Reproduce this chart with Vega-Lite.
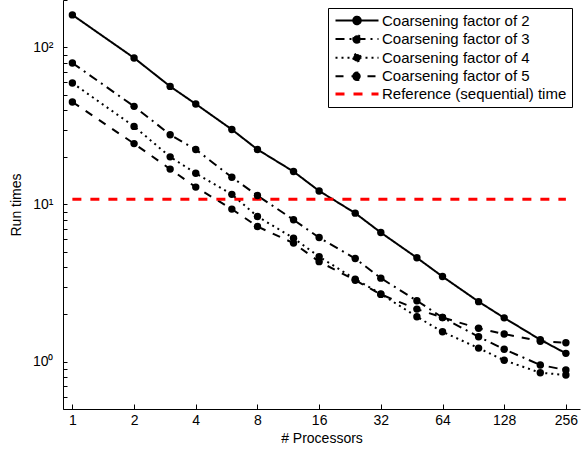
{
  "$schema": "https://vega.github.io/schema/vega-lite/v6.json",
  "width": 517,
  "height": 409,
  "autosize": {"type": "none"},
  "padding": {"left": 63, "top": 0, "right": 1, "bottom": 41},
  "background": "white",
  "config": {
    "font": "Liberation Sans",
    "view": {"stroke": null},
    "axis": {
      "domainColor": "black",
      "domainWidth": 1,
      "tickColor": "black",
      "tickWidth": 1,
      "grid": false,
      "labelColor": "black",
      "titleColor": "black",
      "labelFont": "Liberation Sans",
      "titleFont": "Liberation Sans",
      "labelFontSize": 14,
      "titleFontSize": 14,
      "titleFontWeight": "normal"
    }
  },
  "data": {
    "values": [
      {"P": 1, "time": 160.8, "series": "Coarsening factor of 2"},
      {"P": 2, "time": 85.6, "series": "Coarsening factor of 2"},
      {"P": 3, "time": 56.4, "series": "Coarsening factor of 2"},
      {"P": 4, "time": 43.6, "series": "Coarsening factor of 2"},
      {"P": 6, "time": 30.0, "series": "Coarsening factor of 2"},
      {"P": 8, "time": 22.4, "series": "Coarsening factor of 2"},
      {"P": 12, "time": 16.2, "series": "Coarsening factor of 2"},
      {"P": 16, "time": 12.2, "series": "Coarsening factor of 2"},
      {"P": 24, "time": 8.81, "series": "Coarsening factor of 2"},
      {"P": 32, "time": 6.63, "series": "Coarsening factor of 2"},
      {"P": 48, "time": 4.58, "series": "Coarsening factor of 2"},
      {"P": 64, "time": 3.48, "series": "Coarsening factor of 2"},
      {"P": 96, "time": 2.41, "series": "Coarsening factor of 2"},
      {"P": 128, "time": 1.90, "series": "Coarsening factor of 2"},
      {"P": 192, "time": 1.38, "series": "Coarsening factor of 2"},
      {"P": 256, "time": 1.13, "series": "Coarsening factor of 2"},
      {"P": 1, "time": 79.5, "series": "Coarsening factor of 3"},
      {"P": 2, "time": 42.1, "series": "Coarsening factor of 3"},
      {"P": 3, "time": 27.8, "series": "Coarsening factor of 3"},
      {"P": 4, "time": 22.4, "series": "Coarsening factor of 3"},
      {"P": 6, "time": 14.9, "series": "Coarsening factor of 3"},
      {"P": 8, "time": 11.4, "series": "Coarsening factor of 3"},
      {"P": 12, "time": 7.99, "series": "Coarsening factor of 3"},
      {"P": 16, "time": 6.16, "series": "Coarsening factor of 3"},
      {"P": 24, "time": 4.53, "series": "Coarsening factor of 3"},
      {"P": 32, "time": 3.40, "series": "Coarsening factor of 3"},
      {"P": 48, "time": 2.44, "series": "Coarsening factor of 3"},
      {"P": 64, "time": 1.91, "series": "Coarsening factor of 3"},
      {"P": 96, "time": 1.44, "series": "Coarsening factor of 3"},
      {"P": 128, "time": 1.20, "series": "Coarsening factor of 3"},
      {"P": 192, "time": 0.953, "series": "Coarsening factor of 3"},
      {"P": 256, "time": 0.885, "series": "Coarsening factor of 3"},
      {"P": 1, "time": 59.3, "series": "Coarsening factor of 4"},
      {"P": 2, "time": 31.4, "series": "Coarsening factor of 4"},
      {"P": 3, "time": 20.1, "series": "Coarsening factor of 4"},
      {"P": 4, "time": 15.8, "series": "Coarsening factor of 4"},
      {"P": 6, "time": 11.6, "series": "Coarsening factor of 4"},
      {"P": 8, "time": 8.39, "series": "Coarsening factor of 4"},
      {"P": 12, "time": 6.11, "series": "Coarsening factor of 4"},
      {"P": 16, "time": 4.66, "series": "Coarsening factor of 4"},
      {"P": 24, "time": 3.35, "series": "Coarsening factor of 4"},
      {"P": 32, "time": 2.70, "series": "Coarsening factor of 4"},
      {"P": 48, "time": 1.93, "series": "Coarsening factor of 4"},
      {"P": 64, "time": 1.55, "series": "Coarsening factor of 4"},
      {"P": 96, "time": 1.22, "series": "Coarsening factor of 4"},
      {"P": 128, "time": 1.02, "series": "Coarsening factor of 4"},
      {"P": 192, "time": 0.851, "series": "Coarsening factor of 4"},
      {"P": 256, "time": 0.823, "series": "Coarsening factor of 4"},
      {"P": 1, "time": 44.9, "series": "Coarsening factor of 5"},
      {"P": 2, "time": 24.4, "series": "Coarsening factor of 5"},
      {"P": 3, "time": 16.8, "series": "Coarsening factor of 5"},
      {"P": 4, "time": 12.9, "series": "Coarsening factor of 5"},
      {"P": 6, "time": 9.35, "series": "Coarsening factor of 5"},
      {"P": 8, "time": 7.24, "series": "Coarsening factor of 5"},
      {"P": 12, "time": 5.68, "series": "Coarsening factor of 5"},
      {"P": 16, "time": 4.33, "series": "Coarsening factor of 5"},
      {"P": 24, "time": 3.30, "series": "Coarsening factor of 5"},
      {"P": 32, "time": 2.68, "series": "Coarsening factor of 5"},
      {"P": 48, "time": 2.16, "series": "Coarsening factor of 5"},
      {"P": 64, "time": 1.91, "series": "Coarsening factor of 5"},
      {"P": 96, "time": 1.63, "series": "Coarsening factor of 5"},
      {"P": 128, "time": 1.50, "series": "Coarsening factor of 5"},
      {"P": 192, "time": 1.35, "series": "Coarsening factor of 5"},
      {"P": 256, "time": 1.32, "series": "Coarsening factor of 5"},
      {"P": 1, "time": 10.8, "series": "Reference (sequential) time"},
      {"P": 256, "time": 10.8, "series": "Reference (sequential) time"}
    ]
  },
  "encoding": {
    "x": {
      "field": "P",
      "type": "quantitative",
      "scale": {"type": "log", "base": 2, "domain": [0.9, 300], "nice": false},
      "axis": {
        "title": "# Processors",
        "values": [1, 2, 4, 8, 16, 32, 64, 128, 256],
        "format": "d",
        "labelFlush": false,
        "labelOverlap": false,
        "tickSize": -5,
        "labelPadding": 9,
        "titlePadding": 4
      }
    },
    "y": {
      "field": "time",
      "type": "quantitative",
      "scale": {"type": "log", "domain": [0.5, 200], "nice": false},
      "axis": {
        "title": "Run times",
        "values": [0.5, 0.6, 0.7, 0.8, 0.9, 1, 2, 3, 4, 5, 6, 7, 8, 9, 10, 20, 30, 40, 50, 60, 70, 80, 90, 100, 200],
        "labelExpr": "datum.value == 1 ? '10⁰' : datum.value == 10 ? '10¹' : datum.value == 100 ? '10²' : ''",
        "labelFlush": false,
        "labelOverlap": false,
        "tickSize": -4,
        "labelPadding": 14,
        "titlePadding": 9
      }
    }
  },
  "layer": [
    {
      "transform": [{"filter": "datum.series !== 'Reference (sequential) time'"}],
      "mark": {"type": "line", "strokeWidth": 2},
      "encoding": {
        "color": {
          "field": "series",
          "type": "nominal",
          "scale": {
            "domain": ["Coarsening factor of 2", "Coarsening factor of 3", "Coarsening factor of 4", "Coarsening factor of 5", "Reference (sequential) time"],
            "range": ["black", "black", "black", "black", "#ff0000"]
          },
          "legend": {
            "title": null,
            "orient": "none",
            "legendX": 265,
            "legendY": 8,
            "padding": 5,
            "strokeColor": "black",
            "fillColor": "white",
            "labelFontSize": 15,
            "labelColor": "black",
            "labelFont": "Liberation Sans",
            "labelLimit": 400,
            "symbolSize": 100,
            "labelOffset": 34,
            "rowPadding": 1.6,
            "encode": {
              "symbols": {
                "update": {
                  "shape": {"signal": "datum.value === 'Reference (sequential) time' ? 'M-1,0H7.6' : 'M-1,0H7.6M2.55,0a0.75,0.75 0 1,0 1.5,0a0.75,0.75 0 1,0 -1.5,0'"},
                  "fill": {"signal": "datum.value === 'Reference (sequential) time' ? 'transparent' : 'black'"},
                  "strokeWidth": {"signal": "datum.value === 'Reference (sequential) time' ? 3 : 2"},
                  "opacity": {"value": 1}
                }
              }
            }
          }
        },
        "strokeDash": {
          "field": "series",
          "type": "nominal",
          "scale": {
            "domain": ["Coarsening factor of 2", "Coarsening factor of 3", "Coarsening factor of 4", "Coarsening factor of 5", "Reference (sequential) time"],
            "range": [[1, 0], [9, 5, 2, 5], [2, 4], [8, 8], [9, 9]]
          },
          "legend": {
            "title": null,
            "orient": "none",
            "legendX": 265,
            "legendY": 8,
            "padding": 5,
            "strokeColor": "black",
            "fillColor": "white",
            "labelFontSize": 15,
            "labelColor": "black",
            "labelFont": "Liberation Sans",
            "labelLimit": 400,
            "symbolSize": 100,
            "labelOffset": 34,
            "rowPadding": 1.6,
            "encode": {
              "symbols": {
                "update": {
                  "shape": {"signal": "datum.value === 'Reference (sequential) time' ? 'M-1,0H7.6' : 'M-1,0H7.6M2.55,0a0.75,0.75 0 1,0 1.5,0a0.75,0.75 0 1,0 -1.5,0'"},
                  "fill": {"signal": "datum.value === 'Reference (sequential) time' ? 'transparent' : 'black'"},
                  "strokeWidth": {"signal": "datum.value === 'Reference (sequential) time' ? 3 : 2"},
                  "opacity": {"value": 1}
                }
              }
            }
          }
        }
      }
    },
    {
      "transform": [{"filter": "datum.series === 'Reference (sequential) time'"}],
      "mark": {"type": "line", "strokeWidth": 3},
      "encoding": {
        "color": {"field": "series", "type": "nominal"},
        "strokeDash": {"field": "series", "type": "nominal"}
      }
    },
    {
      "transform": [{"filter": "datum.series !== 'Reference (sequential) time'"}],
      "mark": {"type": "point", "filled": true, "color": "black", "size": 55, "opacity": 1},
      "encoding": {"detail": {"field": "series", "type": "nominal"}}
    }
  ]
}
